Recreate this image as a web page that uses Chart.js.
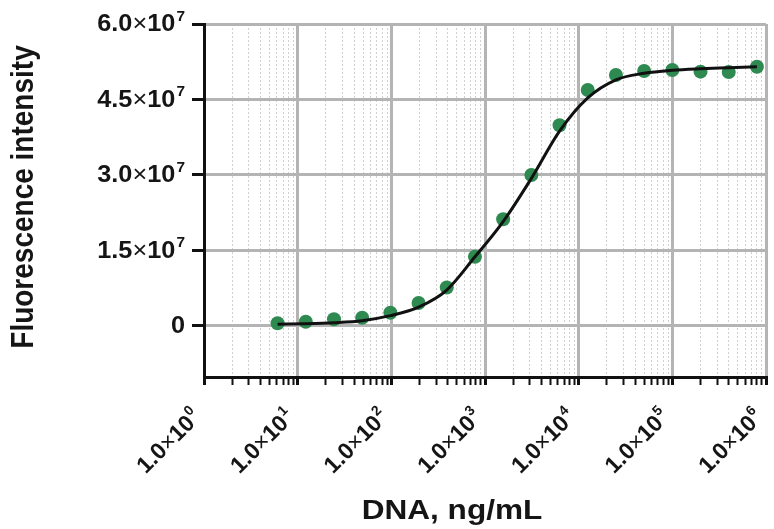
<!DOCTYPE html>
<html>
<head>
<meta charset="utf-8">
<script src="https://cdn.jsdelivr.net/npm/chart.js@4.4.1/dist/chart.umd.min.js"></script>
<style>
  html, body { margin: 0; padding: 0; background: #fff; }
  #wrap { width: 774px; height: 529px; }
</style>
</head>
<body>
<div id="wrap"><canvas id="bindingChart" width="774" height="529"></canvas></div>
<script>
// DNA concentration (ng/mL), 2-fold dilution series
const dnaConc = [6.1035, 12.207, 24.414, 48.828, 97.656, 195.31, 390.63, 781.25, 1562.5,
                 3125, 6250, 12500, 25000, 50000, 100000, 200000, 400000, 800000];
// measured fluorescence (green dots)
const intensity = [0.48e6, 0.80e6, 1.27e6, 1.59e6, 2.59e6, 4.52e6, 7.60e6, 13.72e6, 21.16e6,
                   29.97e6, 39.86e6, 46.88e6, 49.86e6, 50.66e6, 50.86e6, 50.52e6, 50.46e6, 51.5e6];
// fitted curve
const fitConc = [6.1035, 12.207, 24.414, 48.828, 97.656, 195.31, 390.63, 781.25, 1562.5,
                 3125, 6250, 12500, 25000, 50000, 100000, 200000, 400000, 800000];
const fitIntensity = [0.3e6, 0.4e6, 0.6e6, 1.0e6, 2.0e6, 3.7e6, 7.1e6, 13.7e6, 20.7e6,
                      29.3e6, 38.7e6, 45.3e6, 48.9e6, 50.2e6, 50.8e6, 51.1e6, 51.3e6, 51.5e6];

const yTickValues = [0, 1.5e7, 3.0e7, 4.5e7, 6.0e7];
const yTickLabels = ['0', '1.5×10^7', '3.0×10^7', '4.5×10^7', '6.0×10^7'];
const xTickValues = [1, 10, 100, 1e3, 1e4, 1e5, 1e6];
const xTickLabels = ['1.0×10^0', '1.0×10^1', '1.0×10^2', '1.0×10^3', '1.0×10^4', '1.0×10^5', '1.0×10^6'];

const FONT = '"Liberation Sans", Arial, sans-serif';
const TEXT_COLOR = '#151515';

// draws "a×10^b" with a thin times sign and a real superscript, right-aligned at (px, py)
function drawPowerLabel(ctx, label, px, py, angle, sx, size) {
    const [base, exp] = label.split('^');
    ctx.save();
    ctx.translate(px, py);
    ctx.scale(sx, 1);
    ctx.rotate(angle);
    let right = 0;
    if (exp) {
        ctx.font = 'bold ' + Math.round(size * 0.62) + 'px ' + FONT;
        ctx.textAlign = 'right';
        ctx.textBaseline = 'alphabetic';
        ctx.fillText(exp, 0, -3);
        right -= ctx.measureText(exp).width + 1;
    }
    ctx.textAlign = 'right';
    ctx.textBaseline = 'middle';
    const parts = base.split('×');
    if (parts.length === 2) {
        ctx.font = 'bold ' + size + 'px ' + FONT;
        ctx.fillText(parts[1], right, 1);
        right -= ctx.measureText(parts[1]).width;
        ctx.font = size + 'px ' + FONT;
        ctx.fillText('×', right, 1);
        right -= ctx.measureText('×').width;
        ctx.font = 'bold ' + size + 'px ' + FONT;
        ctx.fillText(parts[0], right, 1);
    } else {
        ctx.font = 'bold ' + size + 'px ' + FONT;
        ctx.fillText(base, right, 1);
    }
    ctx.restore();
}

const axisText = {
    id: 'axisText',
    afterDraw(chart) {
        const { ctx, scales: { x, y }, chartArea } = chart;
        ctx.save();
        ctx.fillStyle = TEXT_COLOR;

        yTickValues.forEach((v, i) => {
            drawPowerLabel(ctx, yTickLabels[i], 185, y.getPixelForValue(v), 0, 1.1, 23);
        });
        xTickValues.forEach((v, i) => {
            drawPowerLabel(ctx, xTickLabels[i], x.getPixelForValue(v) - 7, chartArea.bottom + 36, -Math.PI / 4, 1, 23);
        });

        // x title
        ctx.save();
        ctx.translate(452, 512);
        ctx.scale(1.17, 1);
        ctx.font = 'bold 27px ' + FONT;
        ctx.textAlign = 'center';
        ctx.textBaseline = 'middle';
        ctx.fillText('DNA, ng/mL', 0, 0);
        ctx.restore();

        // y title
        ctx.save();
        ctx.translate(25, 197);
        ctx.scale(1.1, 1);
        ctx.rotate(-Math.PI / 2);
        ctx.font = 'bold 28px ' + FONT;
        ctx.textAlign = 'center';
        ctx.textBaseline = 'middle';
        ctx.fillText('Fluorescence intensity', 0, 0);
        ctx.restore();

        ctx.restore();
    }
};

const ctx = document.getElementById('bindingChart').getContext('2d');
const chart = new Chart(ctx, {
    type: 'scatter',
    data: {
        datasets: [{
            label: 'Fit',
            data: fitConc.map((c, i) => ({ x: c, y: fitIntensity[i] })),
            showLine: true,
            borderColor: '#111111',
            borderWidth: 3,
            pointRadius: 0,
            cubicInterpolationMode: 'monotone',
            fill: false
        }, {
            label: 'Measured',
            data: dnaConc.map((c, i) => ({ x: c, y: intensity[i] })),
            backgroundColor: '#2f8a52',
            borderWidth: 0,
            pointRadius: 7,
            pointHoverRadius: 7
        }]
    },
    options: {
        responsive: false,
        animation: false,
        layout: { padding: { top: 24, right: 8, bottom: 0, left: 0 } },
        plugins: {
            legend: { display: false },
            tooltip: { enabled: false }
        },
        scales: {
            x: {
                type: 'logarithmic',
                min: 1,
                max: 1e6,
                afterBuildTicks: (scale) => {
                    const t = [];
                    for (let d = 0; d < 6; d++) {
                        for (let m = 1; m < 10; m++) t.push({ value: m * Math.pow(10, d), major: m === 1 });
                    }
                    t.push({ value: 1e6, major: true });
                    scale.ticks = t;
                },
                afterFit: (scale) => { scale.height = 152; },
                ticks: { display: false },
                grid: {
                    color: (c) => (c.tick && c.tick.major ? '#b4b4b4' : '#d0d0d0'),
                    lineWidth: (c) => (c.tick && c.tick.major ? 3 : 1),
                    tickColor: '#111',
                    tickWidth: (c) => (c.tick && c.tick.major ? 3 : 2),
                    tickLength: 8
                },
                border: {
                    color: '#111',
                    width: 3,
                    dash: (c) => (c.tick && !c.tick.major ? [2, 2] : [])
                }
            },
            y: {
                type: 'linear',
                min: -1.02e7,
                max: 6e7,
                afterBuildTicks: (scale) => {
                    scale.ticks = yTickValues.map(v => ({ value: v }));
                },
                afterFit: (scale) => { scale.width = 204; },
                ticks: { display: false },
                grid: {
                    color: '#b4b4b4',
                    lineWidth: 3,
                    tickColor: '#111',
                    tickWidth: 3,
                    tickLength: 12
                },
                border: { color: '#111', width: 3 }
            }
        }
    },
    plugins: [axisText]
});
</script>
</body>
</html>
